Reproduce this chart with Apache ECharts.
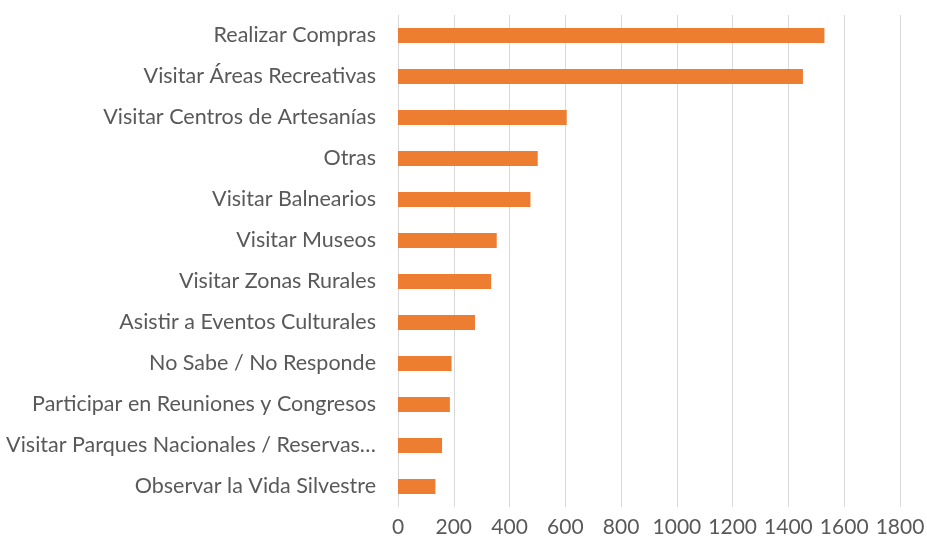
<!DOCTYPE html>
<html>
<head>
<meta charset="utf-8">
<script src="https://cdn.jsdelivr.net/npm/echarts@6/dist/echarts.min.js"></script>
<style>
    html, body { margin: 0; padding: 0; background: #fff; }
    #main { width: 927px; height: 538px; }
</style>
</head>
<body>
<div id="main"></div>
<script>
// actividades, de arriba hacia abajo
var categorias = [
    'Realizar Compras',
    'Visitar Áreas Recreativas',
    'Visitar Centros de Artesanías',
    'Otras',
    'Visitar Balnearios',
    'Visitar Museos',
    'Visitar Zonas Rurales',
    'Asistir a Eventos Culturales',
    'No Sabe / No Responde',
    'Participar en Reuniones y Congresos',
    'Visitar Parques Nacionales / Reservas…',
    'Observar la Vida Silvestre'
];
var valores = [1529, 1452, 605, 501, 475, 354, 334, 276, 192, 186, 158, 134];
var ticksX = [0, 200, 400, 600, 800, 1000, 1200, 1400, 1600, 1800];

var myChart = echarts.init(document.getElementById('main'));
var textColor = '#595959';
var fuente = 'Lato';

myChart.setOption({
    animation: false,
    grid: {
        left: 398,
        right: 27,
        top: 15,
        bottom: 31,
        outerBoundsMode: 'none'
    },
    xAxis: {
        type: 'value',
        min: ticksX[0],
        max: ticksX[ticksX.length - 1],
        interval: 200,
        axisLine: {show: false},
        axisTick: {show: false},
        axisLabel: {
            color: textColor,
            fontSize: 21,
            fontFamily: fuente,
            margin: 10,
            formatter: function (val) {
                return String(val);//sin separador de miles
            }
        },
        splitLine: {
            show: true,
            lineStyle: {color: '#D9D9D9', width: 1}
        }
    },
    yAxis: {
        type: 'category',
        inverse: true,
        data: categorias,
        axisLine: {show: false},
        axisTick: {show: false},
        axisLabel: {
            color: textColor,
            fontSize: 21.5,
            fontFamily: fuente,
            margin: 22
        }
    },
    series: [
        {
            type: 'bar',
            data: valores,
            barWidth: 15,
            itemStyle: {color: '#ED7D31'}
        }
    ]
});
</script>
</body>
</html>
